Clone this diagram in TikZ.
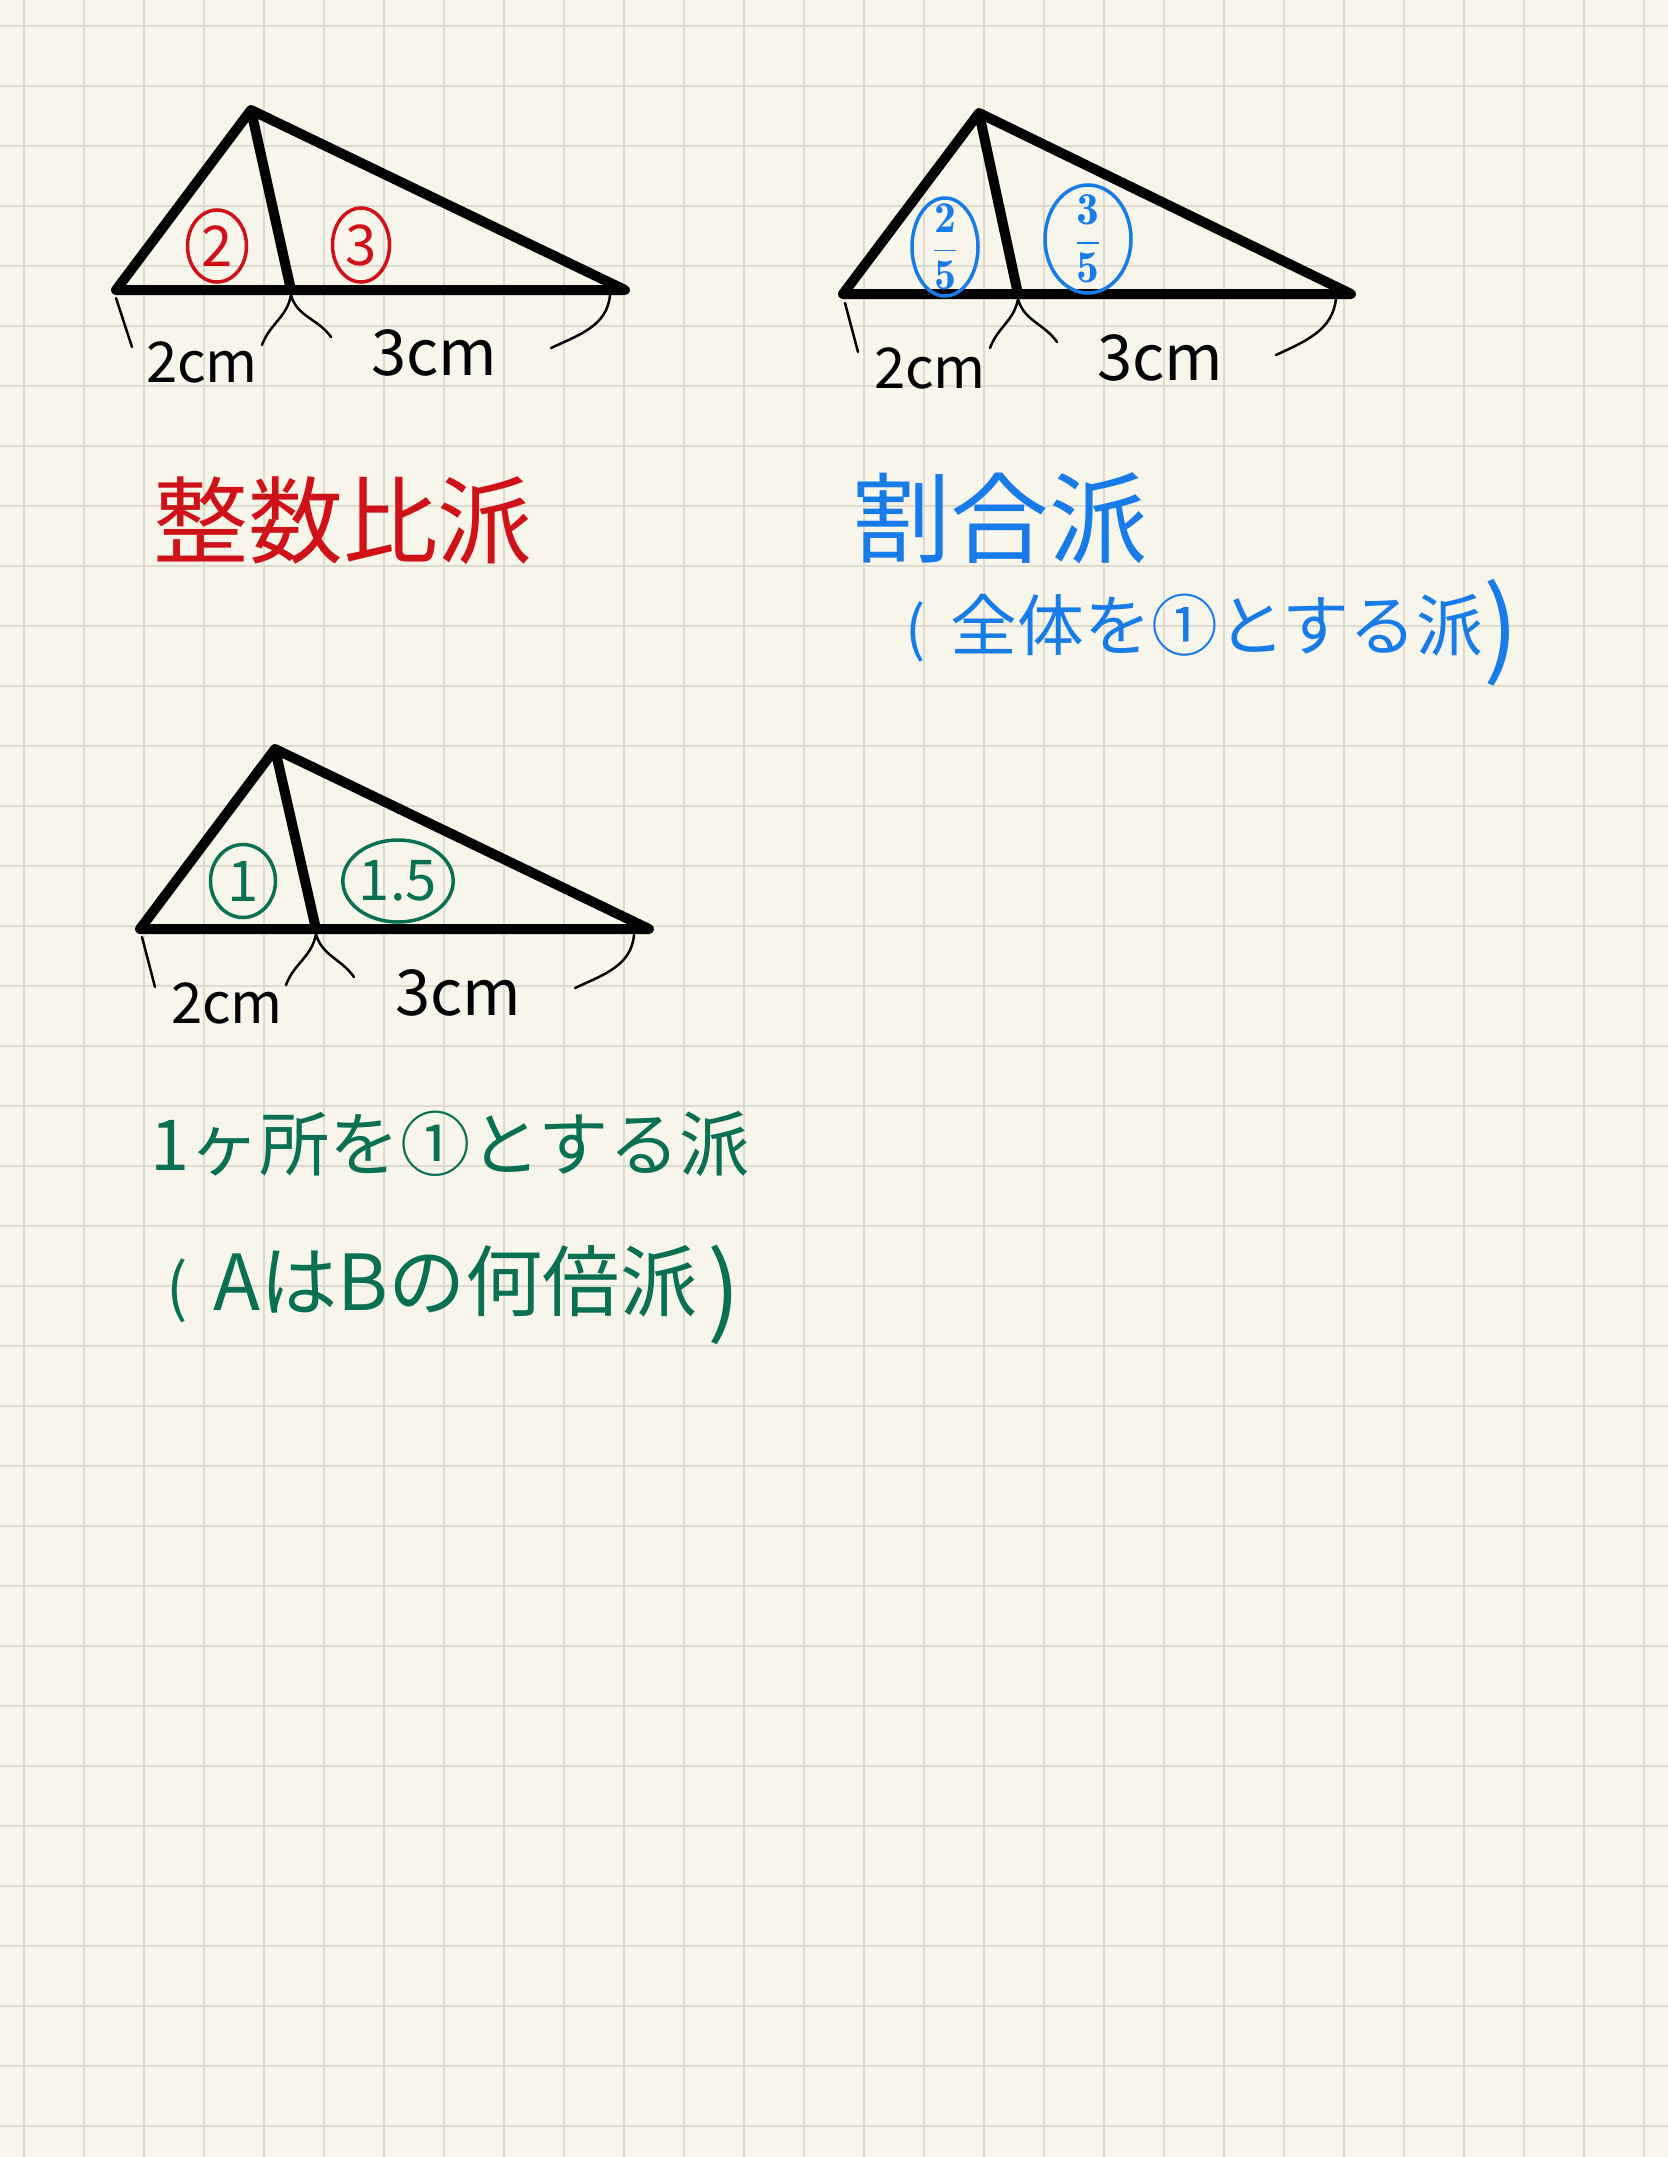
\documentclass[tikz,border=0pt]{standalone}
\usepackage{fontspec}
\usetikzlibrary{shapes.geometric}
\newfontfamily\jp{Noto Sans CJK JP}
\newcommand{\jsize}[1]{\fontsize{#1}{#1}\selectfont}
\definecolor{paper}{RGB}{248,245,234}
\definecolor{rule}{RGB}{221,218,206}
\definecolor{pred}{RGB}{206,18,24}
\definecolor{pblue}{RGB}{24,124,232}
\definecolor{pgreen}{RGB}{10,112,82}

\begin{document}
\begin{tikzpicture}[x=0.1mm, y=-0.1mm,
    side/.style={line width=1mm, line cap=round, line join=round},
    brace/.style={line width=0.25mm, line cap=round},
    ring/.style={draw, ellipse, inner sep=0pt, line width=0.35mm, font=\jp\jsize{16}},
    len/.style={font=\jp, inner sep=0pt},
    note/.style={font=\jp, inner sep=0pt}]

      % paper
      \fill[paper] (0,0) rectangle (1668,2157);
      \useasboundingbox (0,0) rectangle (1668,2157);
      \foreach \i in {0,...,27}
        \draw[rule, line width=0.25mm] ({24+60*\i},0) -- ({24+60*\i},2157);
      \foreach \j in {0,...,35}
        \draw[rule, line width=0.25mm] (0,{26+60*\j}) -- (1668,{26+60*\j});

      % 整数比派
      \coordinate (top) at (251,110);
      \coordinate (lft) at (116,290);
      \coordinate (ft) at (291,290);
      \coordinate (rgt) at (625,290);
      \draw[side] (lft) -- (top) -- (rgt) -- cycle (top) -- (ft);

      \coordinate (b1) at (116,298);
      \coordinate (b2) at (132,347);
      \coordinate (b3) at (262,345);
      \coordinate (b4) at (291,295);
      \coordinate (b5) at (331,337);
      \coordinate (b6) at (610,295);
      \coordinate (b7) at (551,348);
      \draw[brace]
      (b1) -- (b2)
      (b3) to[out=70,in=-100] (b4) to[out=-75,in=125] (b5)
      (b6) to[out=-95,in=25] (b7);

      \node (two) at (217,246) [ring, pred, minimum width=5.9mm, minimum height=7.2mm] {2};
      \node (three) at (361,245) [ring, pred, minimum width=5.7mm, minimum height=7.4mm] {3};
      \node (len2) at (202,362) [len] {\jsize{16}2cm};
      \node (len3) at (434,353) [len] {\jsize{18}3cm};
      \node (seisu) at (343,521) [note, pred] {\jsize{27}整数比派};

      % 割合派
      \coordinate (Rtop) at (979,113);
      \coordinate (Rlft) at (843,294);
      \coordinate (Rft) at (1018,294);
      \coordinate (Rrgt) at (1351,294);
      \draw[side] (Rlft) -- (Rtop) -- (Rrgt) -- cycle (Rtop) -- (Rft);

      \coordinate (Rb1) at (845,303);
      \coordinate (Rb2) at (858,352);
      \coordinate (Rb3) at (990,348);
      \coordinate (Rb4) at (1018,299);
      \coordinate (Rb5) at (1057,342);
      \coordinate (Rb6) at (1336,298);
      \coordinate (Rb7) at (1276,355);
      \draw[brace]
      (Rb1) -- (Rb2)
      (Rb3) to[out=70,in=-100] (Rb4) to[out=-75,in=125] (Rb5)
      (Rb6) to[out=-95,in=25] (Rb7);

      \node (Rtwo) at (945,247) [ring, pblue, inner sep=-1mm, minimum width=6.6mm, minimum height=9.8mm]
        {\jsize{12.5}$\displaystyle\frac{\mathbf{2}}{\mathbf{5}}$};
      \node (Rthree) at (1088,239) [ring, pblue, inner sep=-1mm, minimum width=8.6mm, minimum height=10.8mm]
        {\jsize{13}$\displaystyle\frac{\mathbf{3}}{\mathbf{5}}$};
      \node (Rlen2) at (930,368) [len] {\jsize{16}2cm};
      \node (Rlen3) at (1160,358) [len] {\jsize{18}3cm};
      \node (wariai) at (1000,518) [note, pblue] {\jsize{28}割合派};
      \node (zentai) at (905,650) [note, pblue, anchor=base west]
        {\jsize{19}{\jsize{17}(}\hspace{2.5mm}全体を①とする派\raisebox{-1.5mm}{\jsize{30})}};

      % 1ヶ所を①とする派
      \coordinate (Dtop) at (275,749);
      \coordinate (Dlft) at (140,929);
      \coordinate (Dft) at (316,929);
      \coordinate (Drgt) at (649,929);
      \draw[side] (Dlft) -- (Dtop) -- (Drgt) -- cycle (Dtop) -- (Dft);

      \coordinate (Db1) at (142,937);
      \coordinate (Db2) at (155,987);
      \coordinate (Db3) at (286,985);
      \coordinate (Db4) at (316,934);
      \coordinate (Db5) at (354,977);
      \coordinate (Db6) at (634,935);
      \coordinate (Db7) at (575,988);
      \draw[brace]
      (Db1) -- (Db2)
      (Db3) to[out=70,in=-100] (Db4) to[out=-75,in=125] (Db5)
      (Db6) to[out=-95,in=25] (Db7);

      \node (Done) at (243,881) [ring, pgreen, minimum width=6.5mm, minimum height=7.3mm] {1};
      \node (Dhalf) at (398,881) [ring, pgreen, minimum width=10.7mm, minimum height=8.2mm] {1.5};
      \node (Dlen2) at (227,1003) [len] {\jsize{16}2cm};
      \node (Dlen3) at (458,993) [len] {\jsize{18}3cm};
      \node (ikasho) at (450,1144) [note, pgreen] {\jsize{20}1ヶ所を①とする派};
      \node (nanbai) at (166,1310) [note, pgreen, anchor=base west]
        {\jsize{22}{\jsize{18}(}\hspace{2.5mm}AはBの何倍派\hspace{1mm}\raisebox{-1.5mm}{\jsize{28})}};

\end{tikzpicture}
\end{document}
